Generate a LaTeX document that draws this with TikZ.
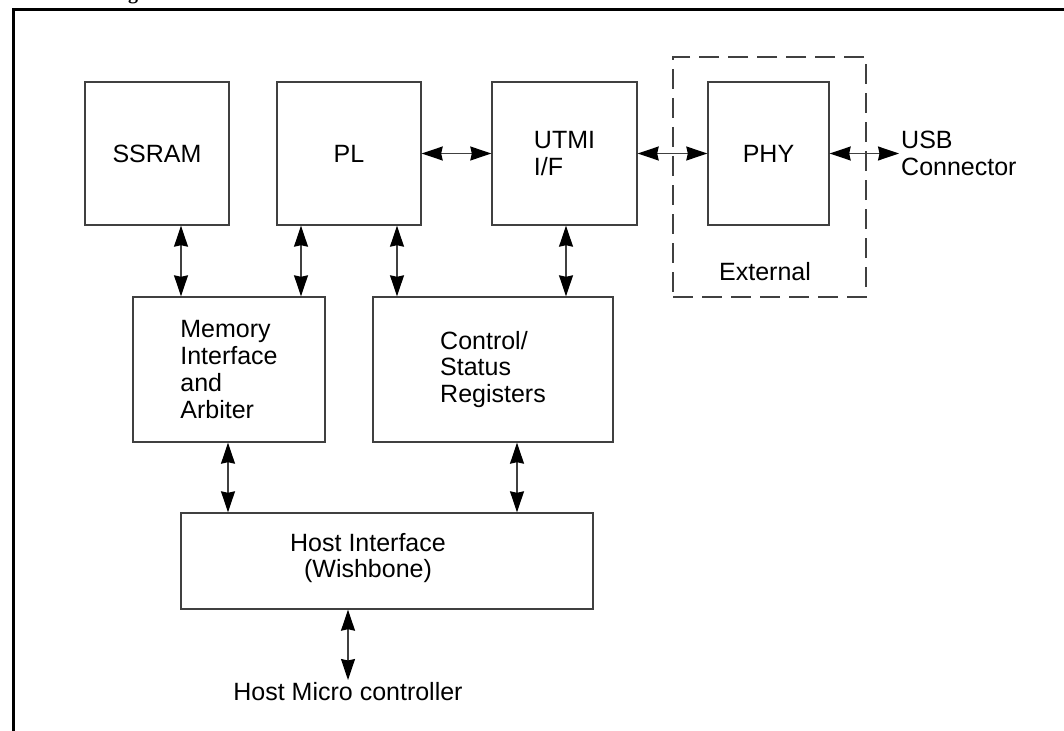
\documentclass[tikz,border=0pt]{standalone}
\usepackage{fontspec}
\setmainfont{Liberation Sans}
\newfontfamily\ttlfont{Liberation Serif}
\usetikzlibrary{arrows.meta}
\definecolor{ln}{HTML}{404040}
\begin{document}
\begin{tikzpicture}[x=1pt,y=-1pt,
  box/.style={draw=ln, line width=1.4pt, inner sep=0pt, font=\fontsize{25}{26.7}\selectfont, align=left},
  dashbox/.style={draw=ln, line width=1.3pt, dash pattern=on 20pt off 9pt, inner sep=0pt},
  arr/.style={draw=ln, line width=1.3pt, {Stealth[length=21pt,width=14pt,inset=1.5pt,color=black]}-{Stealth[length=21pt,width=14pt,inset=1.5pt,color=black]}},
  lbl/.style={font=\fontsize{25}{26.7}\selectfont, inner sep=2pt}]
\useasboundingbox (0,0) rectangle (1064,730);
\begin{scope}
  \clip (0,0) rectangle (1064,730);
  \node[font=\ttlfont\bfseries\fontsize{20}{24}\selectfont, anchor=base, inner sep=0pt] (ttl) at (133,0) {g};
  \draw[line width=3pt] (13,745) -- (13,9.7) -- (1080,9.7);
\end{scope}

% dashed external region
\node[dashbox, minimum width=193pt, minimum height=240pt] (ext) at (769.5,177) {};
\node[lbl] (extlbl) at (765,272) {External};

% blocks
\node[box, minimum width=144pt, minimum height=143pt] (ssram) at (157,153.5) {SSRAM};
\node[box, minimum width=144pt, minimum height=143pt] (pl) at (349,153.5) {PL};
\node[box, minimum width=145pt, minimum height=143pt] (utmi) at (564.5,153.5) {UTMI\\I/F};
\node[box, minimum width=121pt, minimum height=143pt] (phy) at (768.5,153.5) {PHY};
\node[box, minimum width=192pt, minimum height=145pt] (mem) at (229,369.5) {Memory\\Interface\\and\\Arbiter};
\node[box, minimum width=240pt, minimum height=145pt] (ctrl) at (493,369.5) {Control/\\Status\\Registers};
\node[box, minimum width=412pt, minimum height=96pt] (host) at (387,561) {};
\node[lbl, align=center] (hostlbl) at (368,558) {Host Interface\\(Wishbone)};

% free ends and labels
\coordinate (mc) at (348,680);
\node[lbl, anchor=north] (micro) at (mc) {Host Micro controller};
\coordinate (usb) at (899,153.5);
\node[lbl, anchor=west, align=left] (usblbl) at (usb) {USB\\Connector};

% column positions of vertical connectors
\coordinate (xa) at (181,0);
\coordinate (xb) at (301,0);
\coordinate (xc) at (397,0);
\coordinate (xd) at (566,0);
\coordinate (xe) at (228,0);
\coordinate (xf) at (517,0);

% connectors
\draw[arr] (ssram.south -| xa) -- (mem.north -| xa);
\draw[arr] (pl.south -| xb) -- (mem.north -| xb);
\draw[arr] (pl.south -| xc) -- (ctrl.north -| xc);
\draw[arr] (utmi.south -| xd) -- (ctrl.north -| xd);
\draw[arr] (mem.south -| xe) -- (host.north -| xe);
\draw[arr] (ctrl.south -| xf) -- (host.north -| xf);
\draw[arr] (host.south -| mc) -- (mc);
\draw[arr] (pl.east) -- (utmi.west);
\draw[arr] (utmi.east) -- (phy.west);
\draw[arr] (phy.east) -- (usb);
\end{tikzpicture}
\end{document}
